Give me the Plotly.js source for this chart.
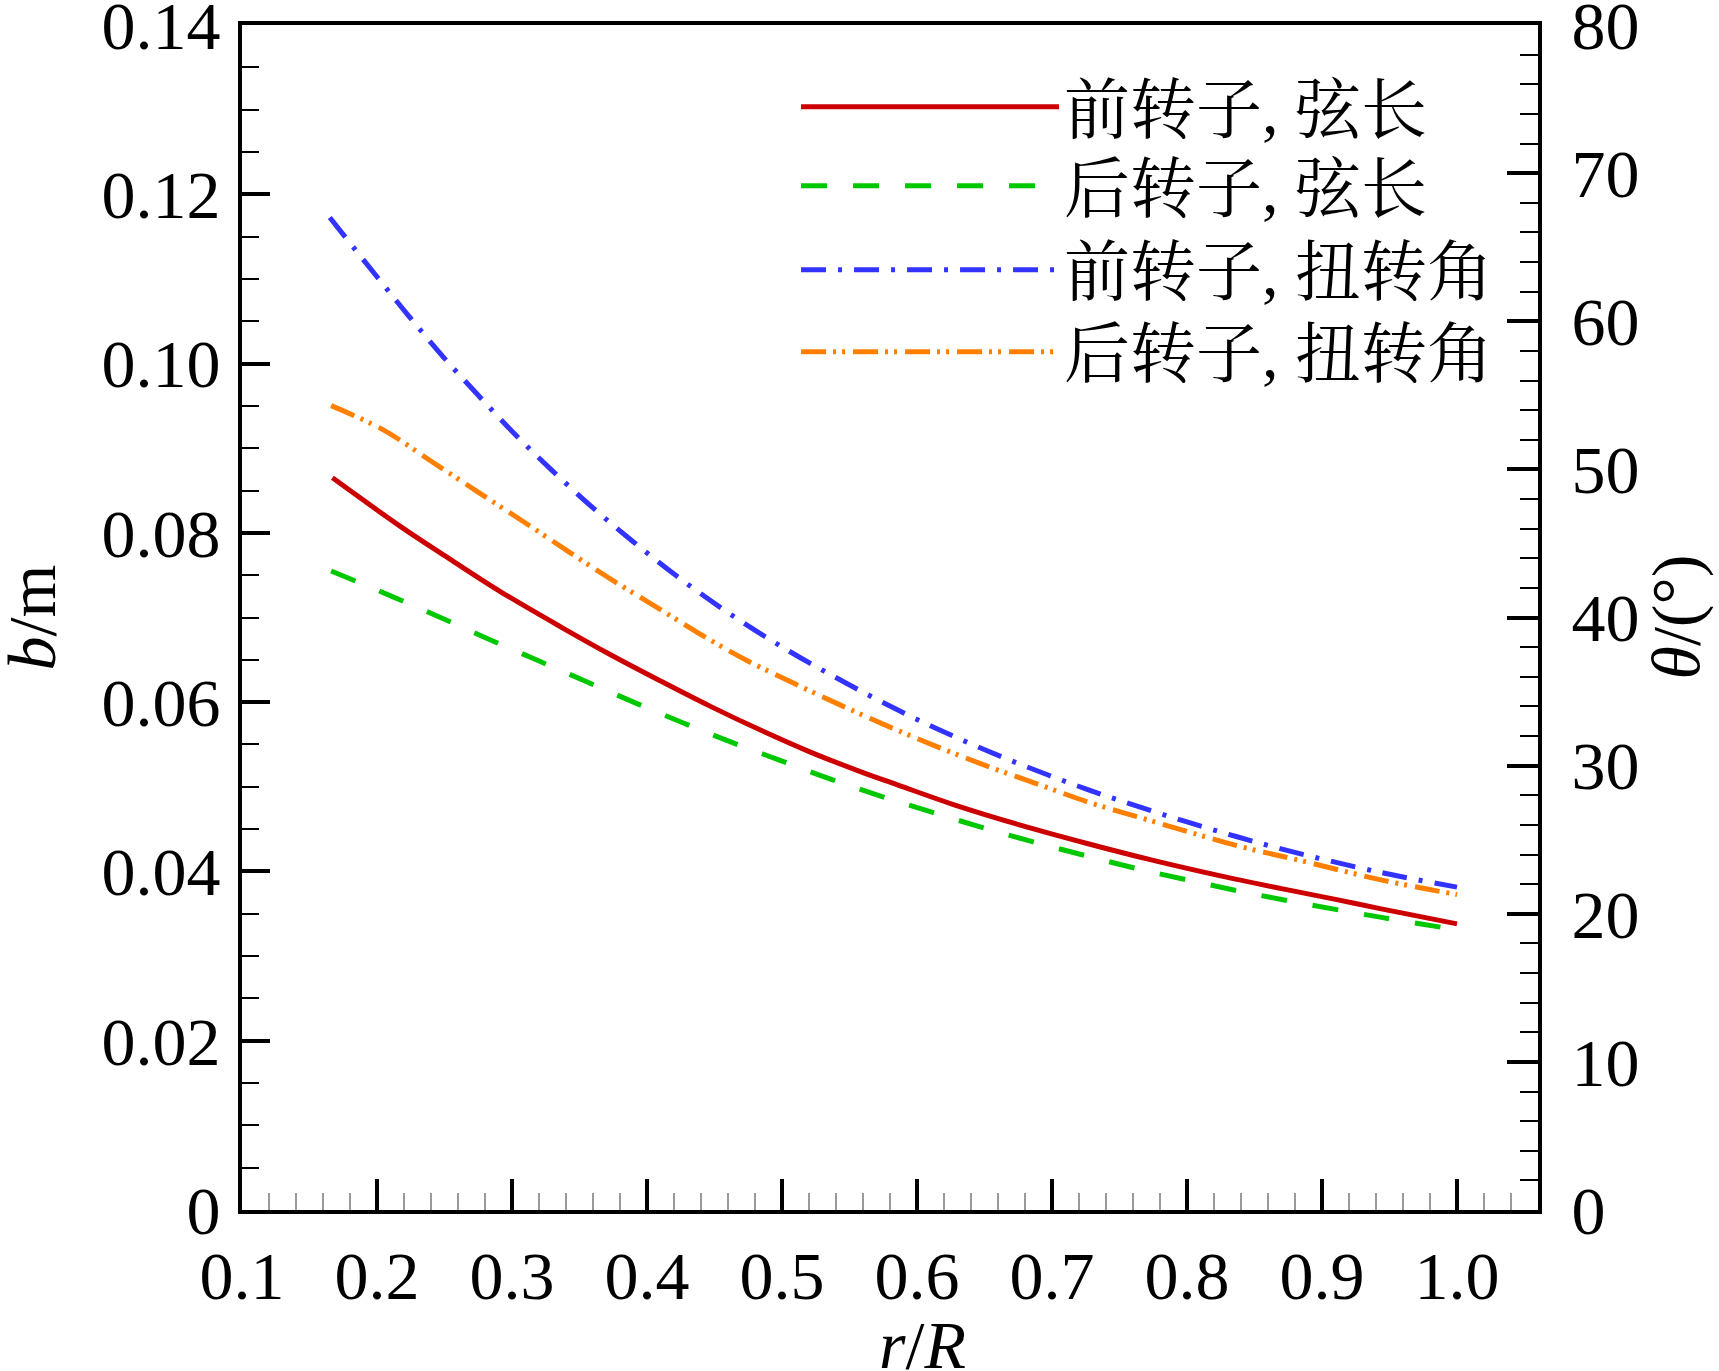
<!DOCTYPE html>
<html>
<head>
<meta charset="utf-8">
<script src="https://cdn.plot.ly/plotly-3.0.1.min.js"></script>
<style>
  body { margin: 0; background: #fff; }
  #plot { width: 1719px; height: 1371px; }
</style>
</head>
<body>
<div id="plot"></div>
<script>
// chord length b (m), left axis
var xFrontChord = [0.167, 0.217, 0.254, 0.291, 0.336, 0.373, 0.410, 0.447, 0.484, 0.521, 0.558, 0.586, 0.627, 0.676, 0.726, 0.775, 0.824, 0.869, 0.910, 0.943, 1.0];
var bFront = [0.0865, 0.0808, 0.0769, 0.0731, 0.0689, 0.0656, 0.0625, 0.0595, 0.0567, 0.0541, 0.0518, 0.0502, 0.0479, 0.0455, 0.0433, 0.0413, 0.0395, 0.0380, 0.0367, 0.0356, 0.0338];

var xRearChord = [0.166, 0.211, 0.247, 0.282, 0.318, 0.354, 0.390, 0.426, 0.462, 0.499, 0.536, 0.573, 0.611, 0.648, 0.686, 0.724, 0.761, 0.800, 0.838, 0.876, 0.943, 1.0];
var bRear = [0.0755, 0.0725, 0.0700, 0.0675, 0.0650, 0.0625, 0.0600, 0.0576, 0.0553, 0.0531, 0.0509, 0.0489, 0.0470, 0.0452, 0.0435, 0.0419, 0.0404, 0.0390, 0.0377, 0.0365, 0.0346, 0.0331];

// twist angle theta (deg), right axis
var xFrontTwist = [0.165, 0.200, 0.224, 0.249, 0.276, 0.304, 0.330, 0.360, 0.390, 0.422, 0.454, 0.486, 0.521, 0.587, 0.652, 0.726, 0.800, 0.869, 0.943, 1.0];
var thFront = [67.0, 63.0, 60.3, 57.6, 54.9, 52.2, 49.9, 47.4, 45.1, 42.8, 40.7, 38.8, 36.9, 33.7, 31.0, 28.4, 26.2, 24.4, 22.8, 21.8];

var xRearTwist = [0.166, 0.204, 0.241, 0.276, 0.308, 0.341, 0.373, 0.407, 0.439, 0.474, 0.508, 0.543, 0.580, 0.617, 0.654, 0.691, 0.728, 0.765, 0.802, 0.841, 0.879, 0.948, 1.0];
var thRear = [54.3, 52.7, 50.5, 48.4, 46.5, 44.5, 42.6, 40.7, 38.9, 37.1, 35.6, 34.1, 32.6, 31.2, 29.9, 28.7, 27.5, 26.5, 25.5, 24.5, 23.7, 22.2, 21.3];

var names = ['前转子, 弦长', '后转子, 弦长', '前转子, 扭转角', '后转子, 扭转角'];

var xTicks = [0.1, 0.2, 0.3, 0.4, 0.5, 0.6, 0.7, 0.8, 0.9, 1.0];
var xTickText = ['0.1', '0.2', '0.3', '0.4', '0.5', '0.6', '0.7', '0.8', '0.9', '1.0'];
var yTicks = [0, 0.02, 0.04, 0.06, 0.08, 0.10, 0.12, 0.14];
var yTickText = ['0', '0.02', '0.04', '0.06', '0.08', '0.10', '0.12', '0.14'];
var y2Ticks = [0, 10, 20, 30, 40, 50, 60, 70, 80];

var SERIF = '"Liberation Serif", "Times New Roman", serif';
var LEG = '"Liberation Serif", "Noto Serif CJK SC", "Noto Sans CJK SC", serif';

// one legend box per entry so the rows can sit where the reference has them
function legendBox(ytop){
  return {
    x: 0.4275, xanchor: 'left',
    y: ytop, yanchor: 'top',
    bgcolor: 'rgba(0,0,0,0)',
    itemwidth: 258,
    font: {family: LEG, size: 66, color: '#000'}
  };
}

function drawDia(){
  var PLOT = document.getElementById('plot');

  var trace1 = {
    x: xFrontChord, y: bFront, name: names[0], type: 'scatter', mode: 'lines', legend: 'legend',
    line: {color: '#cc0000', width: 5, shape: 'spline'}
  };
  var trace2 = {
    x: xRearChord, y: bRear, name: names[1], type: 'scatter', mode: 'lines', legend: 'legend2',
    line: {color: '#00c800', width: 5, dash: '26px,26px', shape: 'spline'}
  };
  var trace3 = {
    x: xFrontTwist, y: thFront, name: names[2], type: 'scatter', mode: 'lines', yaxis: 'y2', legend: 'legend3',
    line: {color: '#3333ff', width: 5, dash: '25px,12px,4px,12px', shape: 'spline'}
  };
  var trace4 = {
    x: xRearTwist, y: thRear, name: names[3], type: 'scatter', mode: 'lines', yaxis: 'y2', legend: 'legend4',
    line: {color: '#ff8000', width: 5, dash: '25px,7px,3px,6px,3px,8px', shape: 'spline'}
  };

  var data = [trace1, trace2, trace3, trace4];

  var layout = {
    width: 1719,
    height: 1371,
    margin: {l: 242, r: 181, t: 25, b: 161},
    paper_bgcolor: '#fff',
    plot_bgcolor: '#fff',
    font: {family: SERIF, size: 68, color: '#000'},
    showlegend: true,
    legend: legendBox(0.9726),
    legend2: legendBox(0.9060),
    legend3: legendBox(0.8352),
    legend4: legendBox(0.7660),
    xaxis: {
      range: [0.1, 1.06],
      tickvals: xTicks,
      ticktext: xTickText,
      ticks: 'inside', ticklen: 31, tickwidth: 4, tickcolor: '#000',
      minor: {dtick: 0.02, tick0: 0.1, ticks: 'inside', ticklen: 17, tickwidth: 2, tickcolor: '#999'},
      showline: true, linewidth: 4, linecolor: '#000', mirror: true,
      showgrid: false, zeroline: false,
      ticklabelstandoff: 3,
      ticklabeloverflow: 'allow',
      tickfont: {family: SERIF, size: 68}
    },
    yaxis: {
      range: [0, 0.14],
      tickvals: yTicks,
      ticktext: yTickText,
      ticks: 'inside', ticklen: 28, tickwidth: 4, tickcolor: '#000',
      minor: {dtick: 0.005, tick0: 0, ticks: 'inside', ticklen: 17, tickwidth: 2, tickcolor: '#000'},
      showline: true, linewidth: 4, linecolor: '#000',
      showgrid: false, zeroline: false,
      ticklabelstandoff: 4,
      ticklabeloverflow: 'allow',
      tickfont: {family: SERIF, size: 68}
    },
    yaxis2: {
      range: [0, 80],
      tickvals: y2Ticks,
      overlaying: 'y', side: 'right',
      ticks: 'inside', ticklen: 31, tickwidth: 4, tickcolor: '#000',
      minor: {dtick: 2, tick0: 0, ticks: 'inside', ticklen: 18, tickwidth: 2, tickcolor: '#000'},
      showline: true, linewidth: 4, linecolor: '#000',
      showgrid: false, zeroline: false,
      ticklabelstandoff: 16,
      ticklabeloverflow: 'allow',
      tickfont: {family: SERIF, size: 68}
    },
    annotations: [
      {text: '<i>b</i>/m', xref: 'paper', yref: 'paper', x: 0, y: 0.5, xshift: -211,
       textangle: -90, showarrow: false, xanchor: 'center', yanchor: 'middle',
       font: {family: SERIF, size: 68}},
      {text: '<i>θ</i>/(°)', xref: 'paper', yref: 'paper', x: 1, y: 0.5, xshift: 137,
       textangle: -90, showarrow: false, xanchor: 'center', yanchor: 'middle',
       font: {family: SERIF, size: 68}},
      {text: '<i>r</i>/<i>R</i>', xref: 'paper', yref: 'paper', x: 0.5247, y: 0, yshift: -135,
       showarrow: false, xanchor: 'center', yanchor: 'middle',
       font: {family: SERIF, size: 68}}
    ]
  };

  Plotly.newPlot(PLOT, data, layout, {displaylogo: false, displayModeBar: false, staticPlot: true});
}
drawDia();
</script>
</body>
</html>
